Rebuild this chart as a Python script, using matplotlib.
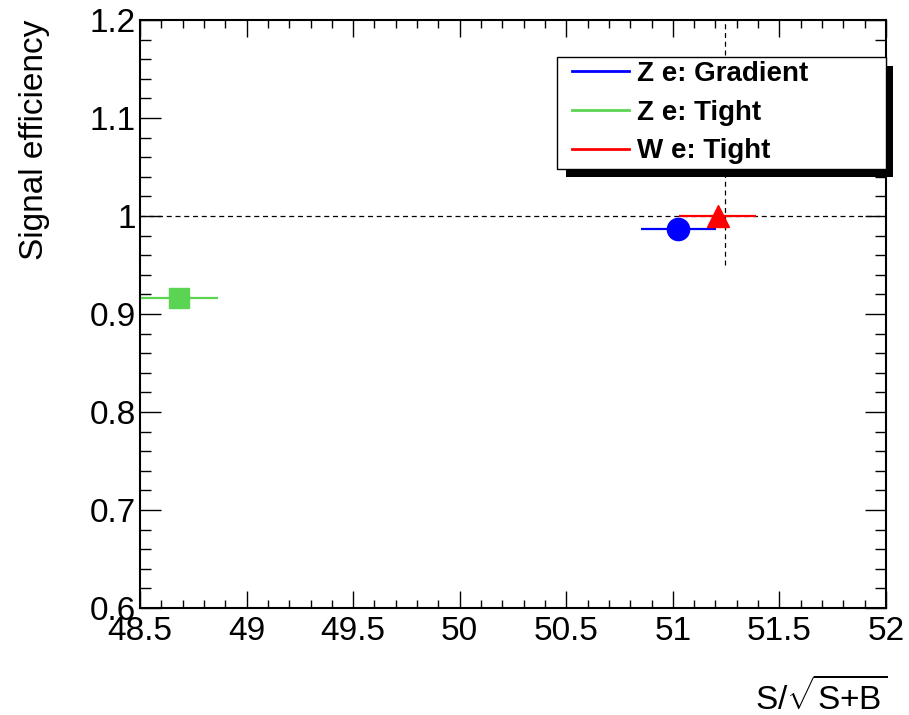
import matplotlib
matplotlib.use('Agg')
import matplotlib.pyplot as plt
from matplotlib.lines import Line2D
from matplotlib.patches import Rectangle
from matplotlib.ticker import MultipleLocator, FuncFormatter

plt.rcParams['font.family'] = ['Liberation Sans', 'DejaVu Sans']
plt.rcParams['mathtext.fontset'] = 'custom'
plt.rcParams['mathtext.rm'] = 'Liberation Sans'
plt.rcParams['mathtext.it'] = 'Liberation Sans'

# working points: S/sqrt(S+B) vs signal efficiency
labels = ['Z e: Gradient', 'Z e: Tight', 'W e: Tight']
colors = ['#0000ff', '#5bd454', '#ff0000']
markers = ['o', 's', '^']
signif = [51.026, 48.685, 51.21]
signif_err = [0.175, 0.18, 0.18]
eff = [0.987, 0.916, 1.0]

# reference lines
ref_eff = 1.0
ref_signif = 51.245
ref_signif_span = [0.95, 1.2]

W, H = 909, 715
fig = plt.figure(figsize=(W / 100, H / 100), dpi=100)
ax = fig.add_axes([140 / W, 1 - 608 / H, 746 / W, 588 / H])

for x, xe, y, c, m in zip(signif, signif_err, eff, colors, markers):
    ms = 14 if m == 's' else 16
    ax.errorbar(x, y, xerr=xe, fmt=m, color=c, ms=ms, elinewidth=1.6,
                capsize=0, zorder=3)

ax.axhline(ref_eff, color='k', lw=0.9, ls=(0, (4, 3)), zorder=2)
ax.plot([ref_signif, ref_signif], ref_signif_span, color='k', lw=0.9,
        ls=(0, (4, 3)), zorder=2)

ax.set_xlim(48.5, 52)
ax.set_ylim(0.6, 1.2)
ax.xaxis.set_major_locator(MultipleLocator(0.5))
ax.xaxis.set_minor_locator(MultipleLocator(0.1))
ax.yaxis.set_major_locator(MultipleLocator(0.1))
ax.yaxis.set_minor_locator(MultipleLocator(0.02))
ax.tick_params(which='both', direction='in', top=True, right=True,
               labelsize=24, width=1, color='k')
ax.tick_params(axis='x', which='major', length=12.5, pad=6)
ax.tick_params(axis='x', which='minor', length=6)
ax.tick_params(axis='y', which='major', length=15, pad=3)
ax.tick_params(axis='y', which='minor', length=8)
ax.xaxis.set_major_formatter(FuncFormatter(lambda v, p: '%g' % v))
ax.yaxis.set_major_formatter(FuncFormatter(lambda v, p: '%g' % v))
for s in ax.spines.values():
    s.set_linewidth(1.5)

ax.set_ylabel('Signal efficiency', fontsize=24, loc='top')
ax.yaxis.set_label_coords(-0.1206, 1.0)
ax.set_xlabel(r'$\mathrm{S/\sqrt{S{+}B}}$', fontsize=24, loc='right')
ax.xaxis.set_label_coords(1.002, -0.118)

# legend: white box with ROOT-style solid shadow
fx = lambda px: px / W
fy = lambda py: 1 - py / H
shadow = Rectangle((fx(566), fy(177)), fx(893) - fx(566), fy(66) - fy(177),
                   transform=fig.transFigure, facecolor='k', edgecolor='none',
                   clip_on=False, zorder=5)
frame = Rectangle((fx(557), fy(169)), fx(886) - fx(557), fy(57) - fy(169),
                  transform=fig.transFigure, facecolor='white', edgecolor='k',
                  lw=1, clip_on=False, zorder=5.5)
ax.add_patch(shadow)
ax.add_patch(frame)

handles = [Line2D([], [], color=c, lw=2) for c in colors]
leg = ax.legend(handles, labels, loc='upper left',
                bbox_to_anchor=(fx(569), fy(58)), bbox_transform=fig.transFigure,
                borderaxespad=0, borderpad=0.1, frameon=False,
                handlelength=2.05, handletextpad=0.3, labelspacing=0.46,
                prop={'weight': 'bold', 'size': 20})
leg.set_zorder(6)

fig.savefig('out.png', dpi=100)
